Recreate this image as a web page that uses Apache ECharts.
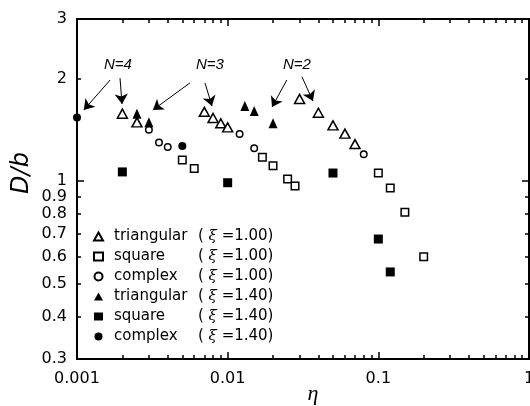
<!DOCTYPE html>
<html>
<head>
<meta charset="utf-8">
<script src="https://cdn.jsdelivr.net/npm/echarts@6/dist/echarts.min.js"></script>
<style>
  html, body { margin: 0; padding: 0; background: #fff; }
  #chart { width: 530px; height: 406px; }
</style>
</head>
<body>
<div id="chart"></div>
<script>
// ticks and labels
const xMajor = [0.001, 0.01, 0.1, 1]
const xLabels = ['0.001', '0.01', '0.1', '1']
const xMinor = [0.002, 0.003, 0.004, 0.005, 0.006, 0.007, 0.008, 0.009,
  0.02, 0.03, 0.04, 0.05, 0.06, 0.07, 0.08, 0.09,
  0.2, 0.3, 0.4, 0.5, 0.6, 0.7, 0.8, 0.9]
const yMajor = [1]
const yMinor = [0.3, 0.4, 0.5, 0.6, 0.7, 0.8, 0.9, 2, 3]
const yLabelValues = [0.3, 0.4, 0.5, 0.6, 0.7, 0.8, 0.9, 1, 2, 3]
const yLabels = ['0.3', '0.4', '0.5', '0.6', '0.7', '0.8', '0.9', '1', '2', '3']

// legend
const shapes = ['triangular', 'square', 'complex', 'triangular', 'square', 'complex']
const xiValues = ['1.00', '1.00', '1.00', '1.40', '1.40', '1.40']

// data: eta / D/b
const triOpenEta = [0.002, 0.0025, 0.007, 0.008, 0.009, 0.01, 0.03, 0.04, 0.05, 0.06, 0.07]
const triOpenD = [1.58, 1.49, 1.60, 1.535, 1.48, 1.44, 1.746, 1.59, 1.46, 1.38, 1.286]
const sqOpenEta = [0.005, 0.006, 0.017, 0.02, 0.025, 0.028, 0.1, 0.12, 0.15, 0.2]
const sqOpenD = [1.154, 1.09, 1.176, 1.11, 1.016, 0.968, 1.057, 0.955, 0.81, 0.60]
const cxOpenEta = [0.003, 0.0035, 0.004, 0.012, 0.015, 0.08]
const cxOpenD = [1.416, 1.30, 1.26, 1.377, 1.25, 1.20]
const triFillEta = [0.0025, 0.003, 0.013, 0.015, 0.02]
const triFillD = [1.58, 1.49, 1.665, 1.61, 1.48]
const sqFillEta = [0.002, 0.01, 0.05, 0.1, 0.12]
const sqFillD = [1.065, 0.99, 1.057, 0.676, 0.541]
const cxFillEta = [0.001, 0.005]
const cxFillD = [1.54, 1.27]

// annotations: N labels and arrows (data coords)
const nLabels = ['N=4', 'N=3', 'N=2']
const nLabelPos = [[0.00187, 2.2], [0.00763, 2.2], [0.0288, 2.2]]
const arrows = [
  [[0.00166, 1.985], [0.00111, 1.62]],
  [[0.00193, 2.01], [0.00199, 1.687]],
  [[0.00562, 1.946], [0.00319, 1.62]],
  [[0.00707, 1.946], [0.00787, 1.663]],
  [[0.0247, 1.985], [0.0197, 1.652]],
  [[0.0311, 2.03], [0.0368, 1.721]]
]

const zip = (a, b) => a.map((v, i) => [v, b[i]])
const names = shapes.map((s, i) => s + ' (ξ=' + xiValues[i] + ')')

const axisLine = { show: true, lineStyle: { color: '#000', width: 2 } }

function xAxisOf(position, ticks, len, withLabel) {
  return {
    type: 'log',
    position: position,
    min: 0.001,
    max: 1,
    splitLine: { show: false },
    axisLine: axisLine,
    axisTick: { show: true, inside: true, length: len, customValues: ticks, lineStyle: { color: '#000', width: 1.5 } },
    axisLabel: withLabel ? {
      show: true,
      customValues: xMajor,
      margin: 12,
      color: '#000',
      fontFamily: 'DejaVu Sans',
      fontSize: 16,
      formatter: v => xLabels[xMajor.findIndex(m => Math.abs(m - v) < m * 1e-6)]
    } : { show: false }
  }
}

function yAxisOf(position, ticks, len, withLabel) {
  return {
    type: 'log',
    position: position,
    min: 0.3,
    max: 3,
    splitLine: { show: false },
    axisLine: axisLine,
    axisTick: { show: true, inside: true, length: len, customValues: ticks, lineStyle: { color: '#000', width: 1.5 } },
    axisLabel: withLabel ? {
      show: true,
      customValues: yLabelValues,
      margin: 10,
      color: '#000',
      fontFamily: 'DejaVu Sans',
      fontSize: 16,
      formatter: v => yLabels[yLabelValues.findIndex(m => Math.abs(m - v) < m * 1e-6)]
    } : { show: false }
  }
}

const openStyle = { color: '#fff', borderColor: '#000', borderWidth: 1.5, opacity: 1 }
const fillStyle = { color: '#000', borderColor: '#000', borderWidth: 0, opacity: 1 }

const seriesDefs = [
  { data: zip(triOpenEta, triOpenD), symbol: 'triangle', size: [10, 9], style: openStyle },
  { data: zip(sqOpenEta, sqOpenD), symbol: 'rect', size: 7.5, style: openStyle },
  { data: zip(cxOpenEta, cxOpenD), symbol: 'circle', size: 6.5, style: openStyle },
  { data: zip(triFillEta, triFillD), symbol: 'triangle', size: [9, 10], style: fillStyle },
  { data: zip(sqFillEta, sqFillD), symbol: 'rect', size: 9, style: fillStyle },
  { data: zip(cxFillEta, cxFillD), symbol: 'circle', size: 8, style: fillStyle }
]

const series = seriesDefs.map((d, i) => ({
  name: names[i],
  type: 'scatter',
  xAxisIndex: 0,
  yAxisIndex: 0,
  symbol: d.symbol,
  symbolSize: d.size,
  itemStyle: d.style,
  data: d.data,
  silent: true
}))

series[0].markLine = {
  silent: true,
  symbol: ['none', 'arrow'],
  symbolSize: 10,
  lineStyle: { color: '#000', width: 1, type: 'solid' },
  itemStyle: { color: '#000' },
  label: { show: false },
  data: arrows.map(a => [{ coord: a[0] }, { coord: a[1] }])
}
series[0].markPoint = {
  silent: true,
  symbol: 'circle',
  symbolSize: 0,
  label: {
    show: true,
    position: 'inside',
    color: '#000',
    fontFamily: 'Liberation Sans',
    fontStyle: 'italic',
    fontSize: 15,
    formatter: p => p.name
  },
  data: nLabels.map((n, i) => ({ name: n, coord: nLabelPos[i] }))
}

const chart = echarts.init(document.getElementById('chart'), null, { renderer: 'canvas' })
chart.setOption({
  animation: false,
  backgroundColor: '#fff',
  grid: { left: 77, right: 1, top: 19, bottom: 47, outerBoundsMode: 'none', containLabel: false },
  xAxis: [
    xAxisOf('bottom', xMajor, 7, true),
    xAxisOf('bottom', xMinor, 4, false),
    xAxisOf('top', xMajor, 7, false),
    xAxisOf('top', xMinor, 4, false)
  ],
  yAxis: [
    yAxisOf('left', yMajor, 7, true),
    yAxisOf('left', yMinor, 4, false),
    yAxisOf('right', yMajor, 7, false),
    yAxisOf('right', yMinor, 4, false)
  ],
  legend: {
    orient: 'vertical',
    left: 88,
    top: 223,
    itemWidth: 9,
    itemHeight: 8,
    itemGap: 3,
    selectedMode: false,
    data: names,
    formatter: name => {
      const i = names.indexOf(name)
      return '{n|' + shapes[i] + '}{p|( }{x|ξ}{p| =' + xiValues[i] + ')}'
    },
    textStyle: {
      color: '#000',
      fontFamily: 'DejaVu Sans',
      fontSize: 15,
      lineHeight: 17,
      rich: {
        n: { width: 84, padding: [0, 0, 0, 6], fontFamily: 'DejaVu Sans', fontSize: 15, color: '#000' },
        p: { fontFamily: 'DejaVu Sans', fontSize: 15, color: '#000' },
        x: { fontFamily: 'DejaVu Serif', fontStyle: 'italic', fontSize: 15, color: '#000' }
      }
    }
  },
  graphic: [
    {
      type: 'text',
      x: 22,
      y: 173,
      rotation: Math.PI / 2,
      style: {
        text: 'D/b',
        font: 'italic 24px "DejaVu Sans"',
        fill: '#000',
        align: 'center',
        verticalAlign: 'middle'
      }
    },
    {
      type: 'text',
      x: 313,
      y: 394,
      style: {
        text: 'η',
        font: 'italic 22px "Liberation Serif"',
        fill: '#000',
        align: 'center',
        verticalAlign: 'middle'
      }
    }
  ],
  series: series
})
</script>
</body>
</html>
